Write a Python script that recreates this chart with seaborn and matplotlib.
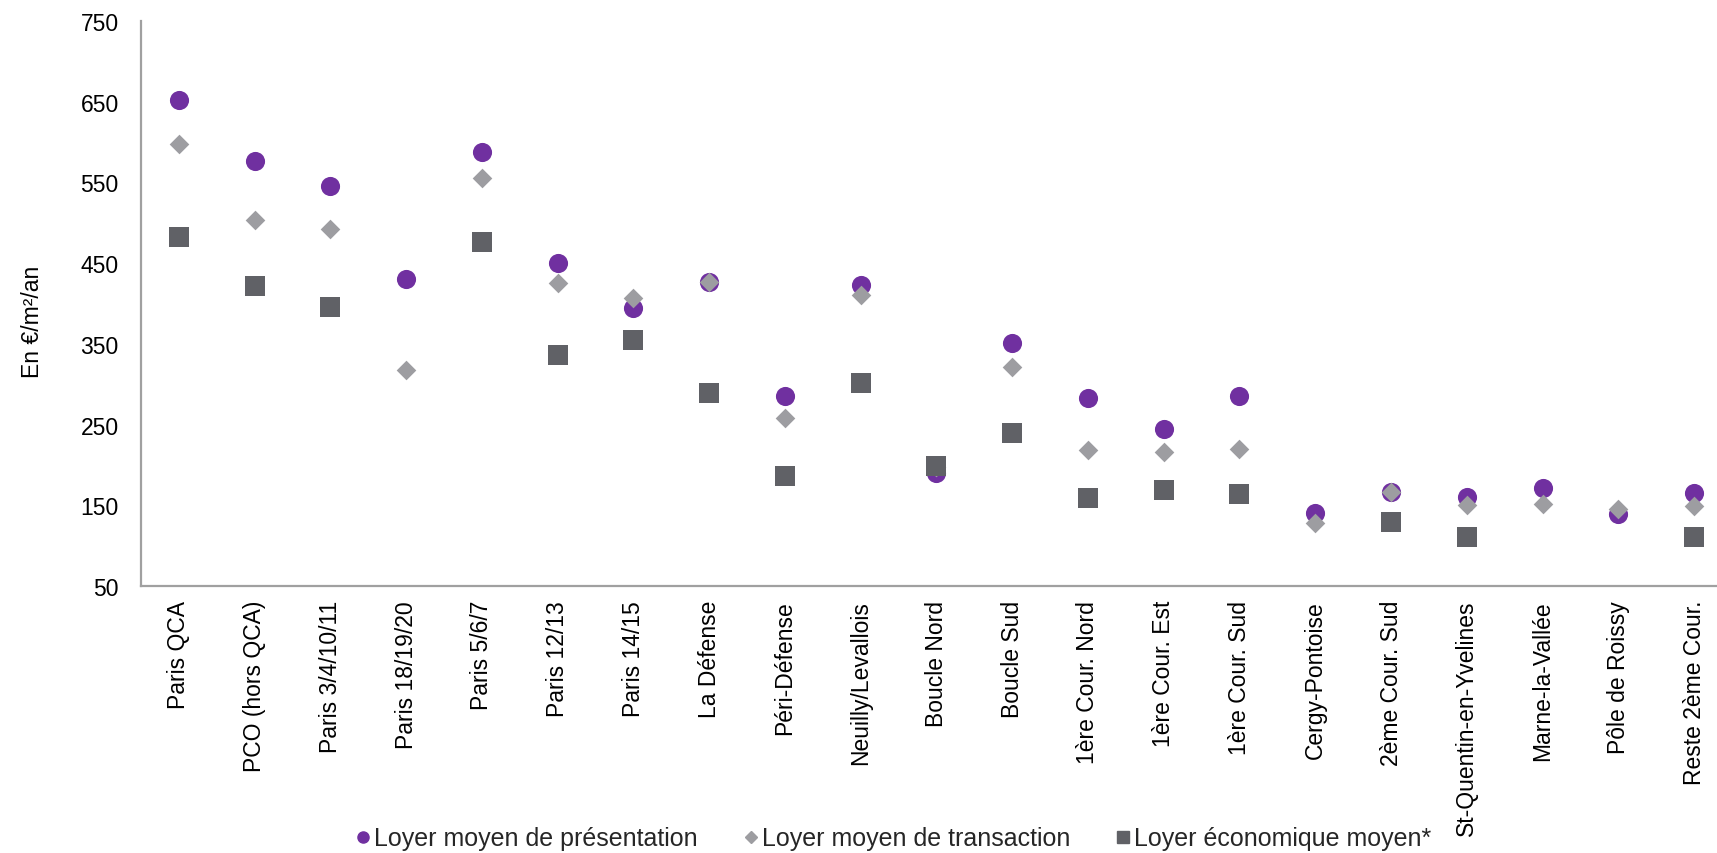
import numpy as np
import pandas as pd
import matplotlib
matplotlib.use("Agg")
import matplotlib.pyplot as plt
import seaborn as sns

categories = [
    "Paris QCA", "PCO (hors QCA)", "Paris 3/4/10/11", "Paris 18/19/20",
    "Paris 5/6/7", "Paris 12/13", "Paris 14/15", "La Défense",
    "Péri-Défense", "Neuilly/Levallois", "Boucle Nord", "Boucle Sud",
    "1ère Cour. Nord", "1ère Cour. Est", "1ère Cour. Sud", "Cergy-Pontoise",
    "2ème Cour. Sud", "St-Quentin-en-Yvelines", "Marne-la-Vallée",
    "Pôle de Roissy", "Reste 2ème Cour.",
]
loyer_presentation = [652, 576, 546, 431, 588, 450, 395, 427, 285, 423, 190,
                      351, 283, 245, 286, 141, 166, 160, 172, 139, 165]
loyer_transaction = [598, 504, 492, 318, 555, 426, 407, 427, 258, 411, 197,
                     321, 218, 216, 220, 128, 166, 151, 152, 145, 149]
loyer_economique = [483, 422, 396, np.nan, 476, 336, 355, 289, 186, 302, 199,
                    239, 159, 169, 164, np.nan, 129, 111, np.nan, np.nan, 111]

series_labels = ["Loyer moyen de présentation", "Loyer moyen de transaction",
                 "Loyer économique moyen*"]
y_ticks = [50, 150, 250, 350, 450, 550, 650, 750]
y_label = "En €/m²/an"

sns.set_theme(style="white")
plt.rcParams["font.family"] = ["Liberation Sans", "DejaVu Sans"]

fig = plt.figure(figsize=(17.17, 8.54), dpi=100)
ax = fig.add_axes([0.0821, 0.3126, 0.9266, 0.6616])

df = pd.DataFrame({
    "zone": categories,
    "presentation": loyer_presentation,
    "transaction": loyer_transaction,
    "economique": loyer_economique,
})

styles = [
    ("presentation", "o", "#7030A0", 190),
    ("transaction", "D", "#9D9DA1", 100),
    ("economique", "s", "#606166", 190),
]
for (col, marker, color, size), label in zip(styles, series_labels):
    sns.scatterplot(data=df, x="zone", y=col, marker=marker, color=color,
                    s=size, linewidth=0, ax=ax, label=label, legend=False,
                    zorder=3)

ax.set_xlim(-0.5, len(categories) - 0.5)
ax.set_ylim(50, 750)
ax.set_yticks(y_ticks)
ax.set_xlabel("")
ax.set_ylabel(y_label, fontsize=16.5, color="black")
ax.yaxis.set_label_coords(-0.061, 0.47)

ax.tick_params(axis="y", length=0, pad=16, labelsize=16.5, labelcolor="black")
ax.tick_params(axis="x", length=0, pad=10, labelsize=16.5, labelcolor="black")
plt.setp(ax.get_xticklabels(), rotation=90, ha="center", va="top")

for side in ["top", "right"]:
    ax.spines[side].set_visible(False)
for side in ["left", "bottom"]:
    ax.spines[side].set_color("#A0A0A0")
    ax.spines[side].set_linewidth(1.6)
ax.grid(False)

handles = [
    plt.Line2D([], [], marker="o", linestyle="", color="#7030A0", markersize=8),
    plt.Line2D([], [], marker="D", linestyle="", color="#9D9DA1", markersize=6),
    plt.Line2D([], [], marker="s", linestyle="", color="#606166", markersize=9),
]
fig.legend(handles, series_labels, loc="center", ncol=3,
           bbox_to_anchor=(0.52, 0.017), frameon=False,
           prop={"family": ["Liberation Sans Narrow", "Liberation Sans"], "size": 18},
           handletextpad=0.1, columnspacing=1.75, handlelength=0.7,
           borderaxespad=0)

fig.savefig("out.png", dpi=100)
